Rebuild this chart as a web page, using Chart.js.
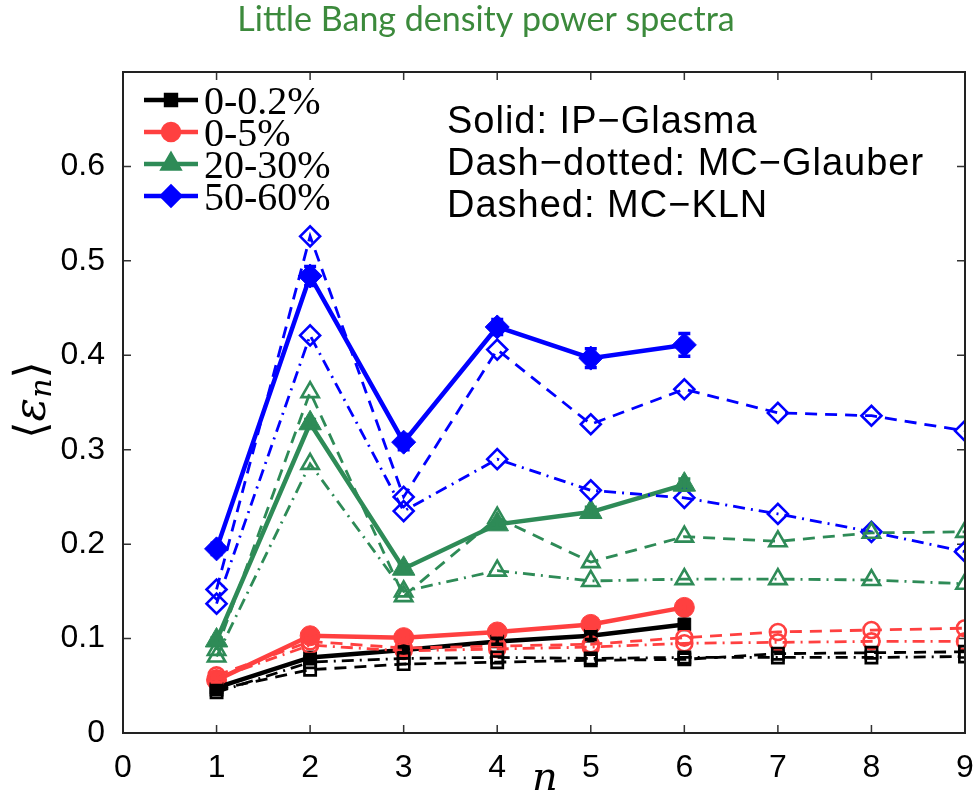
<!DOCTYPE html>
<html>
<head>
<meta charset="utf-8">
<script src="https://cdn.jsdelivr.net/npm/chart.js@4"></script>
<style>
  html, body { margin: 0; padding: 0; background: #fff; }
  #wrap { width: 973px; height: 805px; position: relative; }
</style>
</head>
<body>
<div id="wrap"><canvas id="myChart" width="973" height="805"></canvas></div>
<script>
// harmonic number n
const nSolid = [1, 2, 3, 4, 5, 6];
const nModel = [1, 2, 3, 4, 5, 6, 7, 8, 9];

// 0-0.2%
const blackGlasma = [0.048, 0.080, 0.088, 0.097, 0.103, 0.115];
const blackGlauber = [0.043, 0.075, 0.079, 0.080, 0.079, 0.080, 0.080, 0.080, 0.081];
const blackKLN = [0.046, 0.067, 0.073, 0.075, 0.077, 0.078, 0.084, 0.085, 0.086];
// 0-5%
const redGlasma = [0.056, 0.103, 0.101, 0.107, 0.115, 0.133];
const redGlauber = [0.058, 0.093, 0.087, 0.089, 0.091, 0.095, 0.096, 0.097, 0.097];
const redKLN = [0.061, 0.097, 0.090, 0.092, 0.094, 0.101, 0.107, 0.109, 0.111];
// 20-30%
const greenGlasma = [0.098, 0.328, 0.174, 0.221, 0.234, 0.263];
const greenGlauber = [0.081, 0.285, 0.150, 0.172, 0.161, 0.163, 0.163, 0.162, 0.158];
const greenKLN = [0.088, 0.361, 0.145, 0.228, 0.181, 0.208, 0.203, 0.212, 0.213];
// 50-60%
const blueGlasma = [0.195, 0.484, 0.308, 0.430, 0.397, 0.411];
const blueGlauber = [0.137, 0.421, 0.235, 0.290, 0.257, 0.249, 0.232, 0.213, 0.192];
const blueKLN = [0.152, 0.526, 0.250, 0.406, 0.327, 0.364, 0.339, 0.336, 0.320];

// error bars of the IP-Glasma points
const blackErr = [0.002, 0.003, 0.003, 0.003, 0.004, 0.004];
const redErr = [0.002, 0.003, 0.003, 0.003, 0.004, 0.004];
const greenErr = [0.003, 0.004, 0.004, 0.004, 0.005, 0.006];
const blueErr = [0.006, 0.010, 0.008, 0.008, 0.010, 0.012];

const legendLabels = ['0-0.2%', '0-5%', '20-30%', '50-60%'];
const notes = ['Solid: IP\u2212Glasma', 'Dash\u2212dotted: MC\u2212Glauber', 'Dashed: MC\u2212KLN'];

const BLACK = '#000000', RED = '#ff4040', GREEN = '#2e8b57', BLUE = '#0000ff';
const DASH = [12, 8];
const DASHDOT = [12, 6, 2, 6];

const pts = (xs, ys) => xs.map((x, i) => ({x: x, y: ys[i]}));

function model(ys, color, style, dash, r) {
    return {
        data: pts(nModel, ys),
        borderColor: color,
        borderWidth: 2.8,
        borderDash: dash,
        pointStyle: style,
        pointRadius: r,
        pointBorderWidth: 2.6,
        pointBackgroundColor: 'rgba(255,255,255,0)',
        pointBorderColor: color,
        fill: false
    };
}
function solid(ys, err, color, style, r) {
    return {
        data: pts(nSolid, ys),
        err: err,
        borderColor: color,
        borderWidth: 4.5,
        pointStyle: style,
        pointRadius: r,
        pointBorderWidth: 1,
        pointBackgroundColor: color,
        pointBorderColor: color,
        fill: false
    };
}

const datasets = [
    model(blackGlauber, BLACK, 'rect', DASHDOT, 8),
    model(blackKLN, BLACK, 'rect', DASH, 8),
    model(redGlauber, RED, 'circle', DASHDOT, 8),
    model(redKLN, RED, 'circle', DASH, 8),
    model(greenGlauber, GREEN, 'triangle', DASHDOT, 10),
    model(greenKLN, GREEN, 'triangle', DASH, 10),
    model(blueGlauber, BLUE, 'rectRot', DASHDOT, 10),
    model(blueKLN, BLUE, 'rectRot', DASH, 10),
    solid(blackGlasma, blackErr, BLACK, 'rect', 9),
    solid(redGlasma, redErr, RED, 'circle', 10),
    solid(greenGlasma, greenErr, GREEN, 'triangle', 13),
    solid(blueGlasma, blueErr, BLUE, 'rectRot', 12)
];

// frame, inward ticks, error bars, legend, notes, title
const decorations = {
    id: 'decorations',
    afterLayout(chart) {
        // let the plot box run to the right edge like the original
        const xs = chart.scales.x;
        chart.chartArea.right = 965;
        chart.chartArea.width = chart.chartArea.right - chart.chartArea.left;
        xs.right = 965;
        xs.width = xs.right - xs.left;
        xs.configure();
    },
    beforeDatasetsDraw(chart) {
        const c = chart.ctx, a = chart.chartArea;
        const xs = chart.scales.x, ys = chart.scales.y;
        c.save();
        c.strokeStyle = '#333';
        c.lineWidth = 1.5;
        for (let v = 0; v <= 9; v++) {
            const px = xs.getPixelForValue(v);
            c.beginPath();
            c.moveTo(px, a.bottom); c.lineTo(px, a.bottom - 8);
            c.moveTo(px, a.top); c.lineTo(px, a.top + 8);
            c.stroke();
        }
        for (let v = 0; v <= 0.7001; v += 0.1) {
            const py = ys.getPixelForValue(v);
            c.beginPath();
            c.moveTo(a.left, py); c.lineTo(a.left + 8, py);
            c.moveTo(a.right, py); c.lineTo(a.right - 8, py);
            c.stroke();
        }
        c.restore();
    },
    afterDatasetsDraw(chart) {
        const c = chart.ctx, a = chart.chartArea;
        const xs = chart.scales.x, ys = chart.scales.y;
        c.save();
        // error bars
        chart.data.datasets.forEach(ds => {
            if (!ds.err) return;
            c.strokeStyle = ds.borderColor;
            c.lineWidth = 3.5;
            ds.data.forEach((p, i) => {
                const px = xs.getPixelForValue(p.x);
                const y1 = ys.getPixelForValue(p.y - ds.err[i]);
                const y2 = ys.getPixelForValue(p.y + ds.err[i]);
                c.beginPath();
                c.moveTo(px, y1); c.lineTo(px, y2);
                c.moveTo(px - 6, y1); c.lineTo(px + 6, y1);
                c.moveTo(px - 6, y2); c.lineTo(px + 6, y2);
                c.stroke();
            });
        });
        // frame
        c.strokeStyle = '#222';
        c.lineWidth = 2;
        c.strokeRect(a.left, a.top, a.right - a.left, a.bottom - a.top);

        // legend
        const legendColors = [BLACK, RED, GREEN, BLUE];
        const legendStyles = ['rect', 'circle', 'triangle', 'rectRot'];
        const legendR = [7, 8, 9, 9];
        c.font = '40px "Liberation Serif"';
        c.textBaseline = 'middle';
        c.textAlign = 'left';
        legendLabels.forEach((lab, i) => {
            const y = 100 + i * 32;
            c.strokeStyle = legendColors[i];
            c.lineWidth = 4.5;
            c.beginPath();
            c.moveTo(144, y); c.lineTo(198, y);
            c.stroke();
            Chart.helpers.drawPoint(c, {
                pointStyle: legendStyles[i], radius: legendR[i], rotation: 0, borderWidth: 1
            }, 171, y);
            c.fillStyle = legendColors[i];
            c.fill();
            c.fillStyle = '#000';
            c.fillText(lab, 204, y + 3);
        });

        // model notes
        c.font = '38px "Liberation Sans"';
        c.letterSpacing = '1px';
        c.fillStyle = '#000';
        notes.forEach((t, i) => c.fillText(t, 447, 123 + i * 42));
        c.letterSpacing = '0px';

        // title
        c.font = '34px Lato';
        c.fillStyle = '#3c8a3c';
        c.textAlign = 'center';
        c.fillText('Little Bang density power spectra', 486, 20);

        // axis labels
        c.fillStyle = '#000';
        c.font = 'italic 40px "DejaVu Serif"';
        c.fillText('n', 545, 780);
        c.translate(34, 400);
        c.rotate(-Math.PI / 2);
        c.font = '44px "DejaVu Serif"';
        c.textAlign = 'left';
        const w1 = c.measureText('\u27E8').width;
        c.font = 'italic 44px "DejaVu Serif"';
        const w2 = c.measureText('\u03B5').width;
        c.font = 'italic 30px "DejaVu Serif"';
        const w3 = c.measureText('n').width;
        c.font = '44px "DejaVu Serif"';
        const w4 = c.measureText('\u27E9').width;
        let x0 = -(w1 + w2 + w3 + w4) / 2;
        c.fillText('\u27E8', x0, 0); x0 += w1;
        c.font = 'italic 44px "DejaVu Serif"';
        c.fillText('\u03B5', x0, 0); x0 += w2;
        c.font = 'italic 30px "DejaVu Serif"';
        c.fillText('n', x0, 9); x0 += w3;
        c.font = '44px "DejaVu Serif"';
        c.fillText('\u27E9', x0, 0);
        c.restore();
    }
};

const ctx = document.getElementById('myChart').getContext('2d');
const myChart = new Chart(ctx, {
    type: 'line',
    data: { datasets: datasets },
    plugins: [decorations],
    options: {
        responsive: false,
        animation: false,
        layout: { padding: { top: 72, right: 8, left: 0, bottom: 0 } },
        plugins: { legend: { display: false }, tooltip: { enabled: false } },
        scales: {
            x: {
                type: 'linear',
                min: 0, max: 9,
                grid: { display: false },
                border: { display: false },
                afterFit: s => { s.height = 72; },
                ticks: {
                    stepSize: 1,
                    padding: 8,
                    color: '#000',
                    font: { family: 'Liberation Sans', size: 32 }
                }
            },
            y: {
                min: 0, max: 0.7,
                grid: { display: false },
                border: { display: false },
                afterFit: s => { s.width = 123; },
                ticks: {
                    stepSize: 0.1,
                    padding: 10,
                    color: '#000',
                    font: { family: 'Liberation Sans', size: 32 },
                    callback: v => (v > 0.65 ? '' : (Math.round(v * 10) / 10).toString())
                }
            }
        }
    }
});
</script>
</body>
</html>
